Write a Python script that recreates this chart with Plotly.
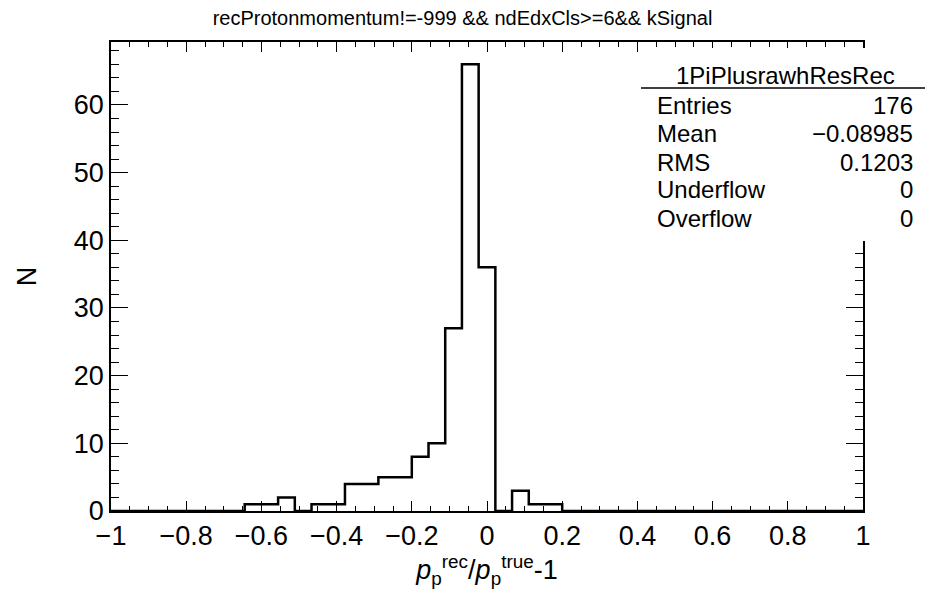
import numpy as np
import plotly.graph_objects as go

# Histogram: 45 bins from -1 to 1
x_min, x_max, n_bins = -1.0, 1.0, 45
counts = [0, 0, 0, 0, 0, 0, 0, 0,
          1, 1, 2, 0, 1, 1, 4, 4, 5, 5, 8, 10, 27, 66, 36, 0, 3, 1, 1,
          0, 0, 0, 0, 0, 0, 0, 0, 0, 0, 0, 0, 0, 0, 0, 0, 0, 0]
x_ticks = [-1, -0.8, -0.6, -0.4, -0.2, 0, 0.2, 0.4, 0.6, 0.8, 1]
x_tick_text = ["\u22121", "\u22120.8", "\u22120.6", "\u22120.4", "\u22120.2", "0",
               "0.2", "0.4", "0.6", "0.8", "1"]
y_ticks = [0, 10, 20, 30, 40, 50, 60]

stats_name = "1PiPlusrawhResRec"
stats_labels = ["Entries", "Mean", "RMS", "Underflow", "Overflow"]
stats_values = ["176", "\u22120.08985", "0.1203", "0", "0"]

title = "recProtonmomentum!=-999 && ndEdxCls>=6&& kSignal"

edges = np.linspace(x_min, x_max, n_bins + 1)
ys = list(counts) + [counts[-1]]

FONT = "Liberation Sans, Arial, Helvetica, sans-serif"

fig = go.Figure()
fig.add_trace(go.Scatter(x=edges, y=ys, mode="lines", line_shape="hv",
                         line=dict(color="black", width=2.5),
                         hoverinfo="skip", showlegend=False))

L, R, T, B = 111, 62, 42, 81
W, H = 925, 592
pw, ph = W - L - R, H - T - B

def px_x(p):
    return (p - L) / pw

def px_y(p):
    return (H - B - p) / ph

fig.update_layout(
    width=W, height=H,
    margin=dict(l=L, r=R, t=T, b=B, pad=0),
    paper_bgcolor="white", plot_bgcolor="white",
    font=dict(family=FONT, color="black", size=26),
    title=dict(text=title, x=0.5, xref="container", xanchor="center",
               y=1 - 18 / H, yanchor="middle", yref="container",
               font=dict(size=20, family=FONT)),
    xaxis=dict(range=[x_min, x_max], tickvals=x_ticks, ticktext=x_tick_text,
               ticks="inside", ticklen=10, tickwidth=1.2, tickcolor="black",
               minor=dict(ticks="inside", dtick=0.05, ticklen=5, tickwidth=1.2,
                          tickcolor="black", showgrid=False),
               showline=True, linecolor="black", linewidth=1.5, mirror="ticks",
               showgrid=False, zeroline=False,
               tickfont=dict(size=27),
               title=dict(text="<i>p</i><sub>p</sub><sup>rec</sup>/<i>p</i><sub>p</sub><sup>true</sup>-1",
                          font=dict(size=27), standoff=2)),
    yaxis=dict(range=[0, 69.3], tickvals=y_ticks,
               ticks="inside", ticklen=17, tickwidth=1.2, tickcolor="black",
               minor=dict(ticks="inside", dtick=2, ticklen=8, tickwidth=1.2,
                          tickcolor="black", showgrid=False),
               showline=True, linecolor="black", linewidth=1.5, mirror="ticks",
               showgrid=False, zeroline=False,
               tickfont=dict(size=27),
               title=dict(text="N", font=dict(size=27), standoff=29)),
)

# Stats box
box_x0, box_x1 = px_x(641), px_x(930)
box_y0, box_y1 = px_y(241), px_y(48)
fig.add_shape(type="rect", xref="paper", yref="paper",
              x0=box_x0, x1=box_x1, y0=box_y0, y1=box_y1,
              fillcolor="white", line=dict(width=0), layer="above")
fig.add_shape(type="line", xref="paper", yref="paper",
              x0=box_x0, x1=box_x1, y0=px_y(88), y1=px_y(88),
              line=dict(color="black", width=1.5), layer="above")
fig.add_annotation(xref="paper", yref="paper", x=px_x(785), y=px_y(75),
                   text=stats_name, showarrow=False, xanchor="center",
                   yanchor="middle", font=dict(size=24, family=FONT))
row_y = [105, 133, 162, 190, 218]
for lab, val, ry in zip(stats_labels, stats_values, row_y):
    fig.add_annotation(xref="paper", yref="paper", x=px_x(655), y=px_y(ry),
                       text=lab, showarrow=False, xanchor="left",
                       yanchor="middle", font=dict(size=24, family=FONT))
    fig.add_annotation(xref="paper", yref="paper", x=px_x(915), y=px_y(ry),
                       text=val, showarrow=False, xanchor="right",
                       yanchor="middle", font=dict(size=24, family=FONT))

fig.write_html("out.html")
